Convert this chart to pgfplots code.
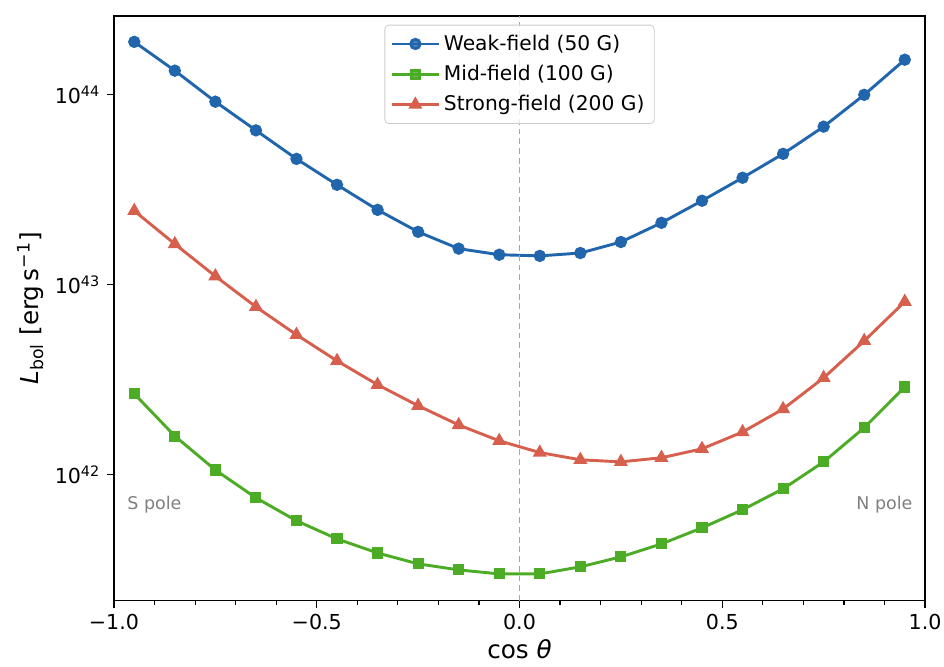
\documentclass[border=0pt]{standalone}
\usepackage{fontspec}
\setmainfont{DejaVu Sans}
\usepackage{pgfplots}
\pgfplotsset{compat=1.18}
\definecolor{cblue}{HTML}{2166AC}
\definecolor{cgreen}{HTML}{4DAC26}
\definecolor{cred}{HTML}{D6604D}
\begin{document}
\begin{tikzpicture}
\begin{axis}[
  name=ax,
  scale only axis,
  width=417.2pt, height=300.9pt,
  ymode=log,
  xmin=-1, xmax=1,
  ymin=2.17e41, ymax=2.6e44,
  xtick={-1,-0.5,0,0.5,1},
  xticklabels={−1.0,−0.5,0.0,0.5,1.0},
  minor x tick num=4,
  ytick={1e42,1e43,1e44},
  yticklabels={10\textsuperscript{42},10\textsuperscript{43},10\textsuperscript{44}},
  yminorticks=false,
  tick align=outside,
  xtick pos=bottom, ytick pos=left,
  major tick length=3.5pt, minor tick length=2pt,
  tick style={black, line width=0.6pt},
  axis line style={line width=0.6pt},
  ticklabel style={font=\fontsize{10.6}{12}\selectfont},
  xlabel={cos {\itshape θ}},
  ylabel={{\itshape L}\textsubscript{bol} [erg\,s\textsuperscript{−1}]},
  label style={font=\fontsize{12.7}{14}\selectfont},
  xlabel style={yshift=2pt},
  ylabel style={yshift=-1pt},
  legend style={at={(0.5,0.985)}, anchor=north, font=\fontsize{10.4}{12}\selectfont,
    draw=black!20, rounded corners=2pt, fill=white, fill opacity=0.8, text opacity=1,
    row sep=2.2pt, inner sep=3pt},
  legend cell align=left,
  legend image code/.code={\draw[#1] (0cm,0cm) -- (0.42cm,0cm) plot coordinates {(0.42cm,0cm)} -- (0.84cm,0cm);},
]
\addplot[cblue, line width=1.5pt, mark=*, mark size=2.4pt] coordinates {
(-0.95,1.9e44) (-0.85,1.34e44) (-0.75,9.2e43) (-0.65,6.5e43) (-0.55,4.6e43)
(-0.45,3.36e43) (-0.35,2.48e43) (-0.25,1.9e43) (-0.15,1.55e43) (-0.05,1.44e43)
(0.05,1.42e43) (0.15,1.47e43) (0.25,1.68e43) (0.35,2.12e43) (0.45,2.77e43)
(0.55,3.66e43) (0.65,4.89e43) (0.75,6.8e43) (0.85,1.0e44) (0.95,1.53e44)};
\addlegendentry{Weak-field (50 G)}
\addplot[cgreen, line width=1.5pt, mark=square*, mark size=2.1pt] coordinates {
(-0.95,2.67e42) (-0.85,1.6e42) (-0.75,1.06e42) (-0.65,7.57e41) (-0.55,5.73e41)
(-0.45,4.6e41) (-0.35,3.88e41) (-0.25,3.4e41) (-0.15,3.16e41) (-0.05,3.01e41)
(0.05,3.01e41) (0.15,3.28e41) (0.25,3.7e41) (0.35,4.33e41) (0.45,5.26e41)
(0.55,6.55e41) (0.65,8.44e41) (0.75,1.17e42) (0.85,1.77e42) (0.95,2.9e42)};
\addlegendentry{Mid-field (100 G)}
\addplot[cred, line width=1.5pt, mark=triangle*, mark size=2.7pt] coordinates {
(-0.95,2.45e43) (-0.85,1.64e43) (-0.75,1.11e43) (-0.65,7.66e42) (-0.55,5.46e42)
(-0.45,3.98e42) (-0.35,2.98e42) (-0.25,2.31e42) (-0.15,1.83e42) (-0.05,1.51e42)
(0.05,1.31e42) (0.15,1.2e42) (0.25,1.17e42) (0.35,1.23e42) (0.45,1.37e42)
(0.55,1.68e42) (0.65,2.22e42) (0.75,3.24e42) (0.85,5.07e42) (0.95,8.15e42)};
\addlegendentry{Strong-field (200 G)}
\draw[gray!70, dashed, line width=0.5pt, dash pattern=on 3pt off 2pt] (axis cs:0,2.17e41) -- (axis cs:0,2.6e44);
\node[anchor=west, text=gray, font=\fontsize{9}{11}\selectfont] at (rel axis cs:0.008,0.165) {S pole};
\node[anchor=east, text=gray, font=\fontsize{9}{11}\selectfont] at (rel axis cs:0.993,0.165) {N pole};
\end{axis}
\pgfresetboundingbox
\path[use as bounding box] (-58.64pt,-33.44pt) rectangle (426.95pt,309.16pt);
\end{tikzpicture}
\end{document}
